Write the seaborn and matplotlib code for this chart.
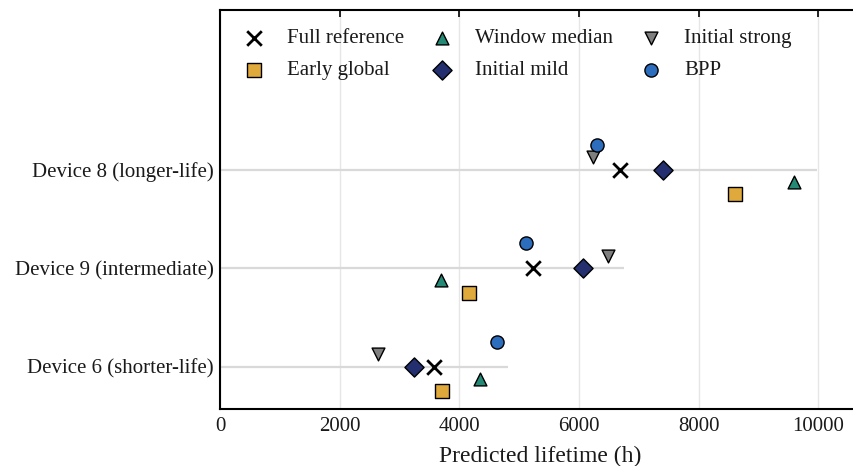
import numpy as np
import pandas as pd
import matplotlib
matplotlib.use("Agg")
import matplotlib.pyplot as plt
import seaborn as sns

devices = ["Device 6 (shorter-life)", "Device 9 (intermediate)", "Device 8 (longer-life)"]
methods = ["Full reference", "Early global", "Window median", "Initial mild", "Initial strong", "BPP"]

full_reference = [3584, 5229, 6689]
early_global = [3718, 4169, 8612]
window_median = [4348, 3690, 9599]
initial_mild = [3244, 6065, 7408]
initial_strong = [2648, 6488, 6237]
bpp = [4632, 5112, 6304]

values = {
    "Full reference": full_reference,
    "Early global": early_global,
    "Window median": window_median,
    "Initial mild": initial_mild,
    "Initial strong": initial_strong,
    "BPP": bpp,
}

offsets = {"Full reference": 0.0, "Early global": -0.25, "Window median": -0.125,
           "Initial mild": 0.0, "Initial strong": 0.125, "BPP": 0.25}
markers = {"Full reference": "X", "Early global": "s", "Window median": "^",
           "Initial mild": "D", "Initial strong": "v", "BPP": "o"}
colors = {"Full reference": "black", "Early global": "#E0A93B", "Window median": "#258A75",
          "Initial mild": "#232F6E", "Initial strong": "#7F7F7F", "BPP": "#2D6DBE"}
sizes = {"Full reference": 110, "Early global": 90, "Window median": 85,
         "Initial mild": 95, "Initial strong": 85, "BPP": 90}

rows = []
for m in methods:
    for i, d in enumerate(devices):
        rows.append({"method": m, "device": d, "pos": i, "lifetime": values[m][i]})
df = pd.DataFrame(rows)
df["y"] = df["pos"] + df["method"].map(offsets)

sns.set_style("white")
plt.rcParams["font.family"] = ["Liberation Serif", "DejaVu Serif"]
plt.rcParams["text.color"] = "#1a1a1a"
plt.rcParams["xtick.labelcolor"] = "#1a1a1a"
plt.rcParams["ytick.labelcolor"] = "#1a1a1a"
plt.rcParams["axes.labelcolor"] = "#1a1a1a"

fig = plt.figure(figsize=(8.54, 4.66), dpi=100)
ax = fig.add_axes([220/854, 1 - 409/466, 640/854, 399/466])

for i, d in enumerate(devices):
    mx = max(values[m][i] for m in methods)
    ax.hlines(i, 0, mx * 1.04, color="#d9d9d9", lw=1.6, zorder=1)

for m in methods:
    sub = df[df["method"] == m]
    if m == "Full reference":
        ax.scatter(sub["lifetime"], sub["y"], marker="x", s=110, color="black",
                   linewidths=2.0, zorder=3, label=m)
    else:
        sns.scatterplot(data=sub, x="lifetime", y="y", marker=markers[m], s=sizes[m],
                        color=colors[m], edgecolor="black", linewidth=1.0,
                        zorder=3, label=m, ax=ax)

ax.set_xlim(0, 10700)
ax.set_ylim(-0.43, 3.62)
ax.set_xticks([0, 2000, 4000, 6000, 8000, 10000])
ax.set_yticks([0, 1, 2])
ax.set_yticklabels(devices)
ax.xaxis.grid(True, color="#e6e6e6", lw=1.0, zorder=0)
ax.yaxis.grid(False)
ax.set_axisbelow(True)
ax.set_xlabel("Predicted lifetime (h)", fontsize=17, labelpad=7)
ax.set_ylabel("")
ax.tick_params(axis="x", bottom=False, top=True, direction="in", length=5, width=1.2,
               labelbottom=True, labeltop=False, labelsize=15, color="black", pad=6)
ax.tick_params(axis="y", left=False, labelsize=15, pad=1)
for s in ["left", "bottom", "top"]:
    ax.spines[s].set_color("black")
    ax.spines[s].set_linewidth(1.5)
ax.spines["right"].set_visible(False)

handles, labels = ax.get_legend_handles_labels()
order = [labels.index(m) for m in methods]
ax.legend([handles[k] for k in order], [labels[k] for k in order], ncol=3,
          loc="upper left", bbox_to_anchor=(-0.002, 0.99), frameon=False, fontsize=15,
          handletextpad=0.6, columnspacing=0.8, borderaxespad=0.3, labelspacing=0.6)

fig.savefig("out.png", dpi=100)
